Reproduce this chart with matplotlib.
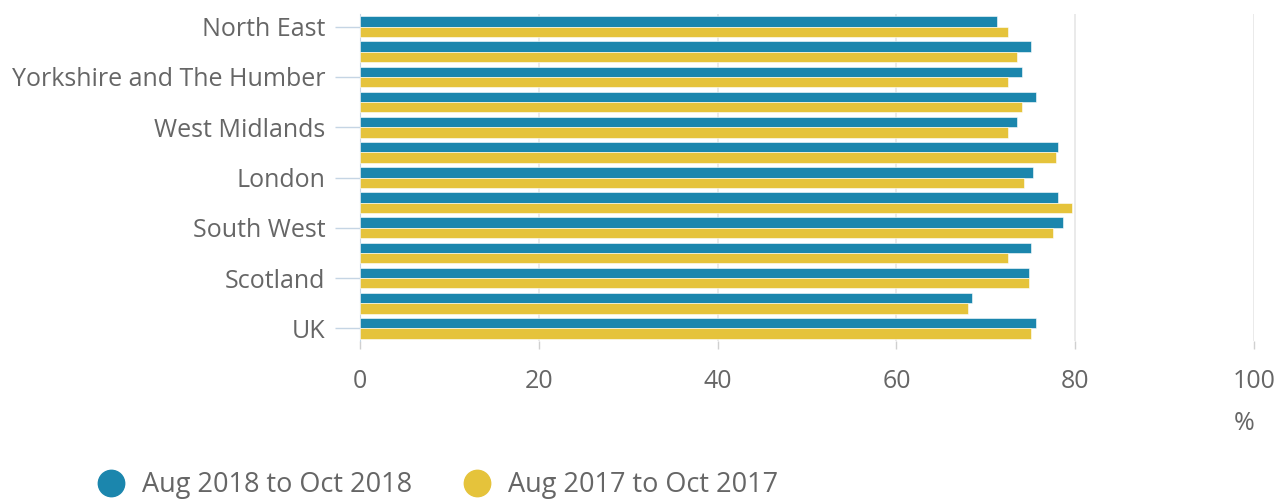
import numpy as np
import matplotlib.pyplot as plt
from matplotlib.lines import Line2D

plt.rcParams['font.family'] = ['Open Sans', 'DejaVu Sans']

regions = ['North East', 'North West', 'Yorkshire and The Humber', 'East Midlands',
           'West Midlands', 'East of England', 'London', 'South East', 'South West',
           'Wales', 'Scotland', 'Northern Ireland', 'UK']
rate_2018 = [71.3, 75.1, 74.1, 75.6, 73.5, 78.1, 75.3, 78.1, 78.6, 75.1, 74.8, 68.5, 75.6]
rate_2017 = [72.5, 73.5, 72.5, 74.0, 72.5, 77.8, 74.3, 79.6, 77.5, 72.5, 74.8, 68.0, 75.1]
labels_2018 = 'Aug 2018 to Oct 2018'
labels_2017 = 'Aug 2017 to Oct 2017'

blue = '#1b86ad'
yellow = '#e5c33b'
grey = '#666666'

fig = plt.figure(figsize=(12.77, 4.99), dpi=100)
ax = fig.add_axes([360 / 1277, 1 - 341 / 499, (1254 - 360) / 1277, (341 - 14) / 499])

y = np.arange(len(regions))
h = 0.41
ax.barh(y - h / 2, rate_2018, height=h, color=blue, edgecolor='white', linewidth=0.4, zorder=3)
ax.barh(y + h / 2, rate_2017, height=h, color=yellow, edgecolor='white', linewidth=0.4, zorder=3)

ax.set_xlim(0, 100)
ax.set_ylim(len(regions) - 0.5, -0.5)
ax.set_xticks([0, 20, 40, 60, 80, 100])
ax.grid(axis='x', color='#e6e6e6', linewidth=1.2, zorder=0)

shown = y[::2]
ax.set_yticks(shown)
ax.set_yticklabels([regions[i] for i in shown])
ax.tick_params(axis='y', length=18, width=1, color='#c5d5e4', labelsize=18,
               labelcolor=grey, pad=7)
ax.tick_params(axis='x', length=6, width=1, color='#d0d0d0', labelsize=18,
               labelcolor=grey, pad=14)
for s in ['top', 'right', 'bottom']:
    ax.spines[s].set_visible(False)
ax.spines['left'].set_color('#c5d5e4')

fig.text(1244 / 1277, 1 - 424 / 499, '%', ha='center', va='center', fontsize=18, color=grey)

handles = [Line2D([], [], marker='o', linestyle='', markersize=19, color=blue),
           Line2D([], [], marker='o', linestyle='', markersize=19, color=yellow)]
fig.legend(handles, [labels_2018, labels_2017], loc='center left',
           bbox_to_anchor=(73 / 1277, 1 - 485 / 499), ncol=2, frameon=False,
           fontsize=19.5, labelcolor=grey, handletextpad=0.65, columnspacing=1.9,
           handlelength=1.0)

fig.savefig('out.png', dpi=100)
